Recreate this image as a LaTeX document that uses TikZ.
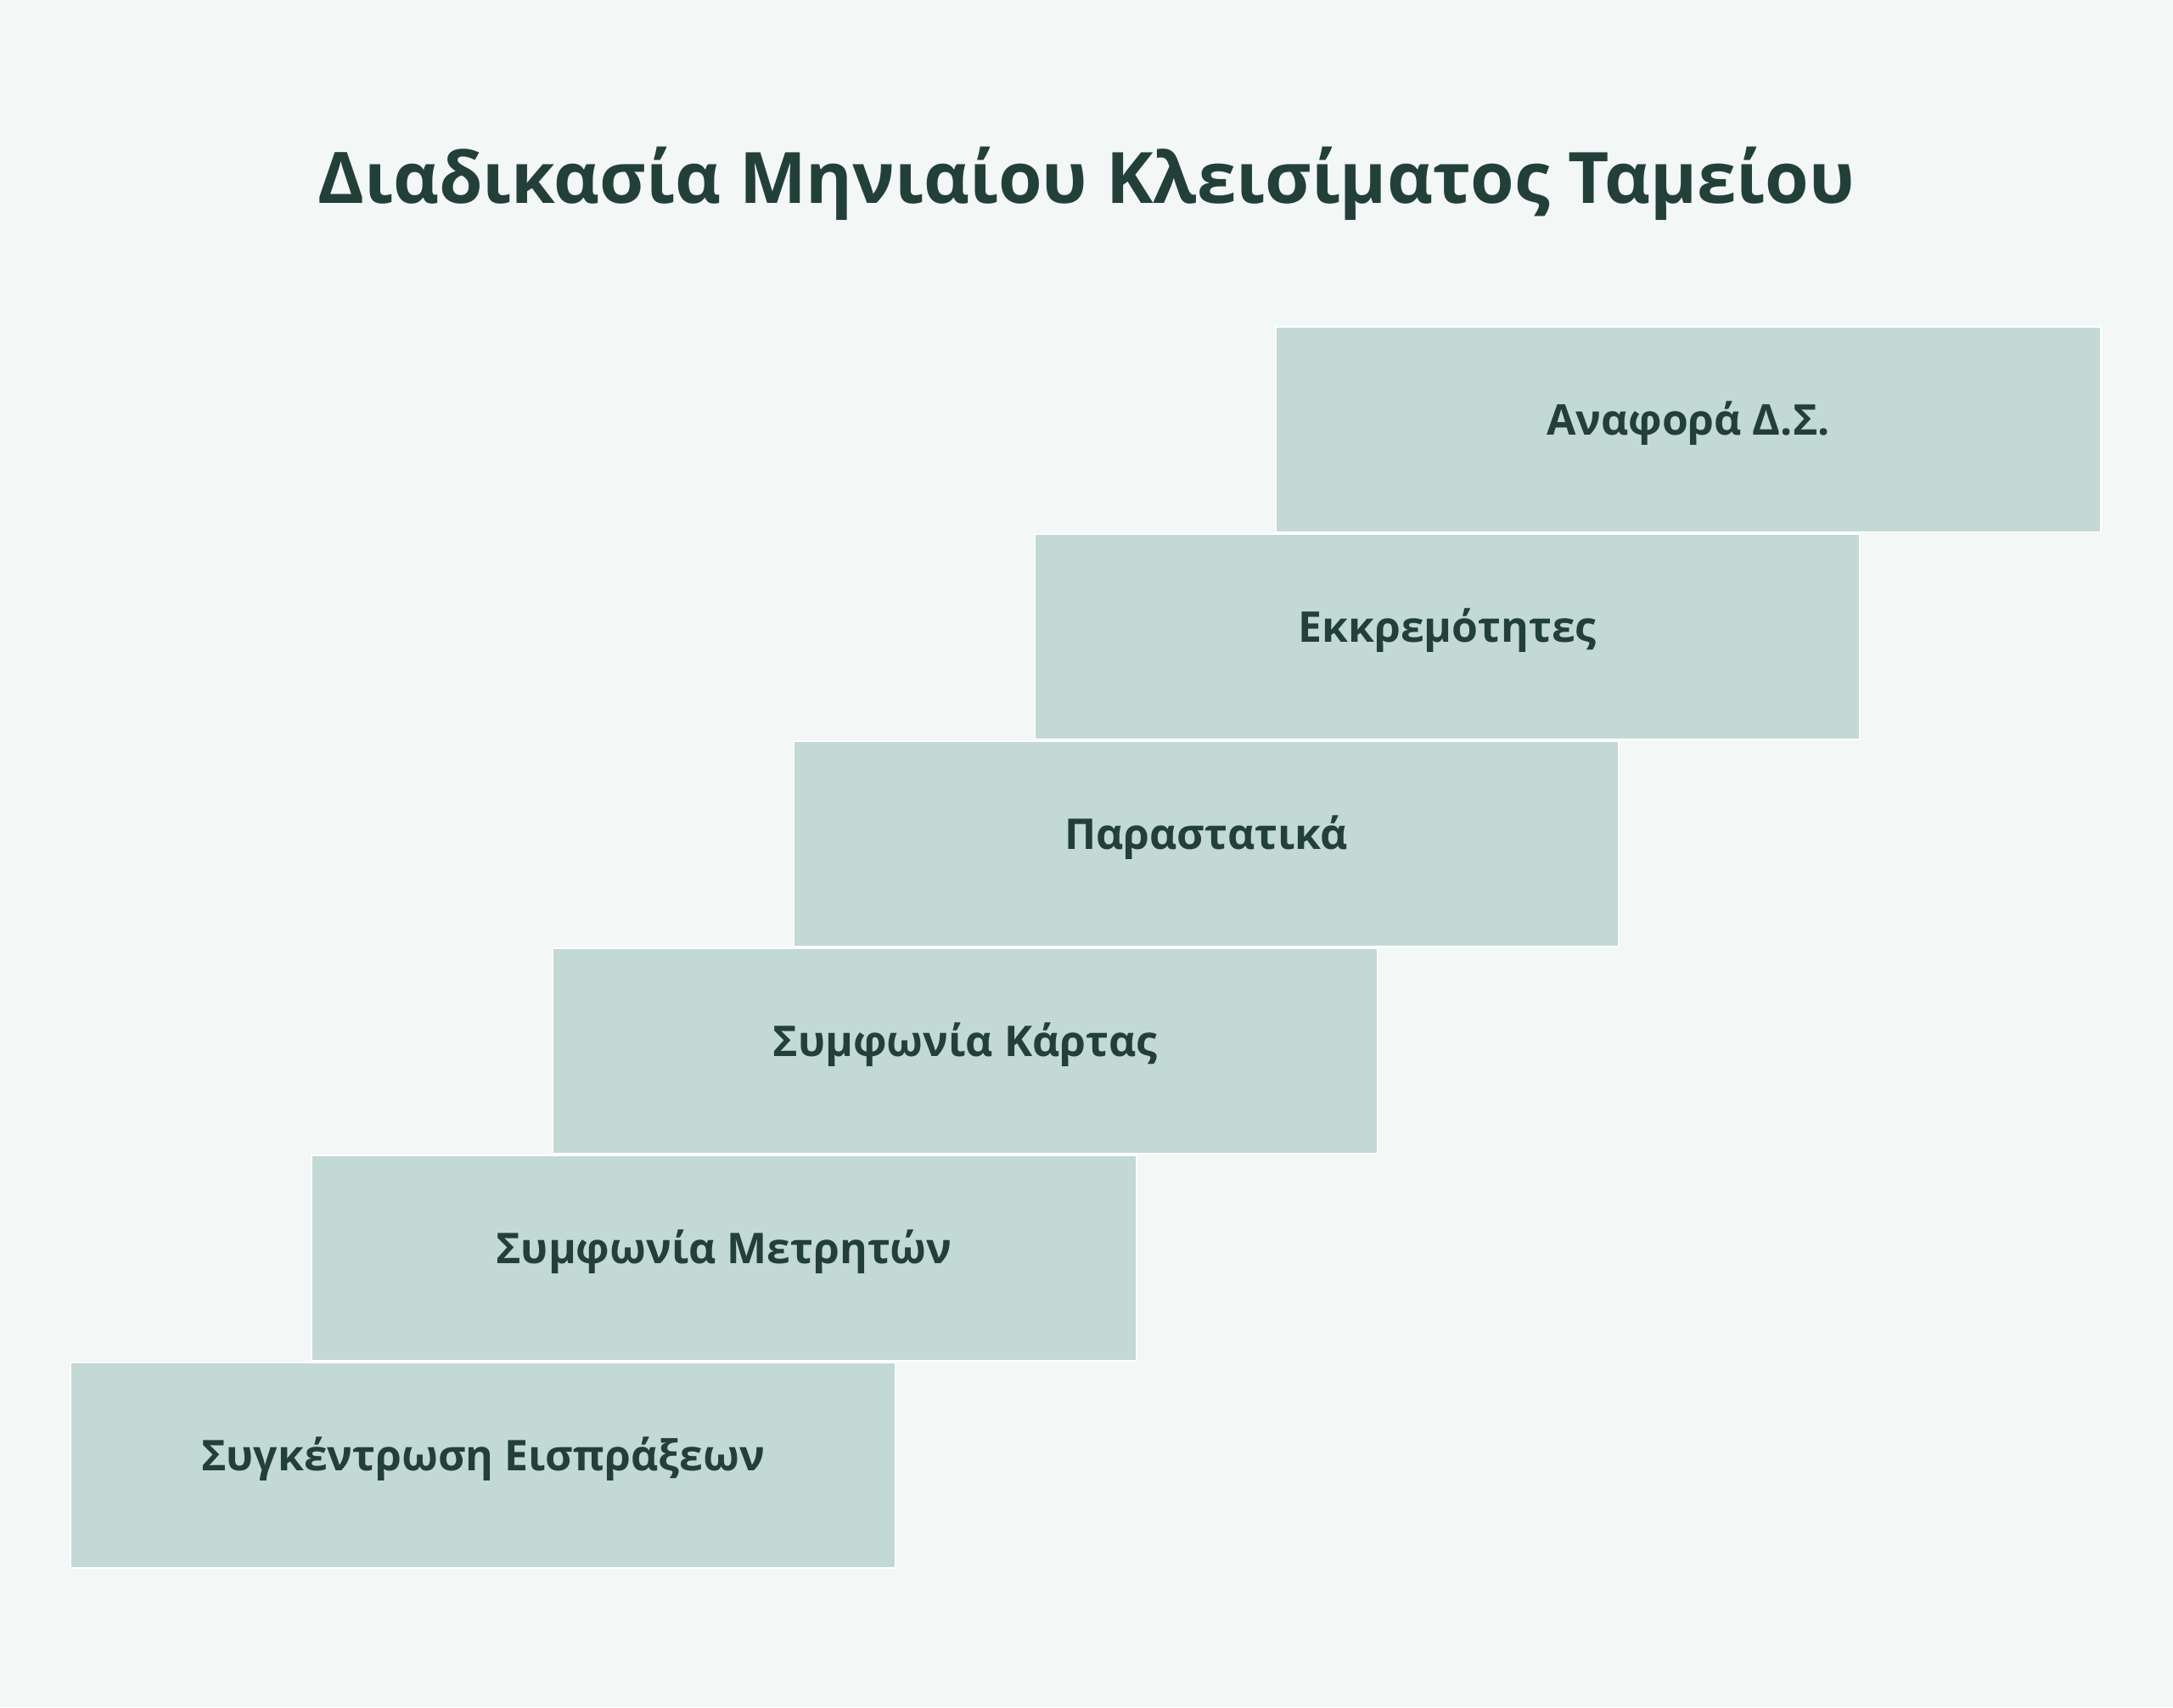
\documentclass[tikz,border=0pt]{standalone}
\usepackage{fontspec}
\setmainfont{Open Sans}
\usepackage{xcolor}
\usetikzlibrary{positioning,shapes,calc}
\definecolor{bgcol}{HTML}{F3F7F5}
\definecolor{boxcol}{HTML}{C2D9D5}
\definecolor{inkcol}{HTML}{224039}

\begin{document}
\begin{tikzpicture}[stair node/.style={rectangle,fill=boxcol,draw=white,line width=0.02cm,minimum width=9.72cm,minimum height=2.42cm,inner sep=0pt,text height=0.13cm,text depth=0cm,text=inkcol,font=\fontsize{14.2}{16}\selectfont\bfseries},
title node/.style={anchor=base,text=inkcol,inner sep=0pt,font=\fontsize{23.75}{28}\selectfont\bfseries}]
\fill[bgcol] (0,0) rectangle (25.6,20.11);
\useasboundingbox (0,0) rectangle (25.6,20.11);
\node[title node] (title) at (12.8,17.71) {Διαδικασία Μηνιαίου Κλεισίματος Ταμείου};
\node[stair node] (s1) at (5.69,2.85) {Συγκέντρωση Εισπράξεων};
\node[stair node] (s2) at (8.53,5.29) {Συμφωνία Μετρητών};
\node[stair node] (s3) at (11.37,7.73) {Συμφωνία Κάρτας};
\node[stair node] (s4) at (14.21,10.17) {Παραστατικά};
\node[stair node] (s5) at (17.05,12.61) {Εκκρεμότητες};
\node[stair node] (s6) at (19.89,15.05) {Αναφορά Δ.Σ.};
\end{tikzpicture}
\end{document}
